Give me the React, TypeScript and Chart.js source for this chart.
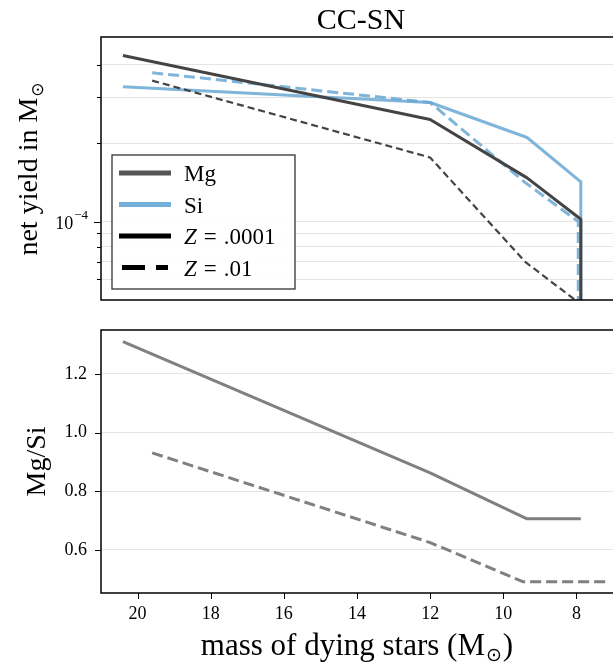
import React, { useEffect, useRef } from 'react';
import { Chart, registerables } from 'chart.js';
Chart.register(...registerables);

// ---- data ----
const massSolid = [20.4, 12.0, 9.35, 7.88, 7.88];
const massDashed = [19.6, 12.0, 9.4, 7.95, 7.95];
const mgSolid = [4.33e-4, 2.46e-4, 1.47e-4, 1.02e-4, 1e-6];
const siSolid = [3.29e-4, 2.86e-4, 2.1e-4, 1.42e-4, 1e-6];
const mgDashed = [3.47e-4, 1.76e-4, 7.0e-5, 4.9e-5, 1e-6];
const siDashed = [3.72e-4, 2.86e-4, 1.41e-4, 1.0e-4, 1e-6];

const ratioMassSolid = [20.4, 12.0, 9.35, 7.88];
const ratioSolid = [1.31, 0.863, 0.706, 0.706];
const ratioMassDashed = [19.6, 12.0, 9.45, 7.2];
const ratioDashed = [0.931, 0.625, 0.491, 0.491];

const massTicks = [8, 10, 12, 14, 16, 18, 20];
const yieldTicks = [6e-5, 7e-5, 8e-5, 9e-5, 1e-4, 2e-4, 3e-4, 4e-4];
const yieldMajor = [1e-4];
const yieldMajorBase = '10';
const yieldMajorExp = '−4';
const ratioTicks = [0.6, 0.8, 1.0, 1.2];

const legendLabels = ['Mg', 'Si', 'Z = .0001', 'Z = .01'];

const SERIF = '"Liberation Serif", "DejaVu Serif", serif';
const MG = '#444444';
const SI = 'rgba(104,168,212,0.85)';
const GREY = '#808080';
const GRID = '#e4e4e4';

const pts = (xs: number[], ys: number[]) => xs.map((x, i) => ({ x, y: ys[i] }));

function drawSunText(ctx: CanvasRenderingContext2D, main: string, tail: string, cx: number, y: number, size: number) {
  const mainFont = `${size}px ${SERIF}`;
  const subSize = Math.round(size * 0.62);
  const subFont = `${subSize}px "DejaVu Sans", ${SERIF}`;
  ctx.font = mainFont;
  const w1 = ctx.measureText(main).width;
  const w3 = tail ? ctx.measureText(tail).width : 0;
  ctx.font = subFont;
  const w2 = ctx.measureText('⊙').width;
  const total = w1 + w2 + w3 + 2;
  let x = cx - total / 2;
  ctx.textAlign = 'left';
  ctx.textBaseline = 'alphabetic';
  ctx.fillStyle = '#000';
  ctx.font = mainFont;
  ctx.fillText(main, x, y);
  x += w1 + 1;
  ctx.font = subFont;
  ctx.fillText('⊙', x, y + size * 0.2);
  x += w2 + 1;
  if (tail) {
    ctx.font = mainFont;
    ctx.fillText(tail, x, y);
  }
}

function drawSpines(ctx: CanvasRenderingContext2D, a: any) {
  ctx.strokeStyle = '#000';
  ctx.lineWidth = 1.5;
  ctx.beginPath();
  ctx.moveTo(a.right + 2, a.top);
  ctx.lineTo(a.left, a.top);
  ctx.lineTo(a.left, a.bottom);
  ctx.lineTo(a.right + 2, a.bottom);
  ctx.stroke();
}

const zeroPad = (s: any) => {
  s.paddingTop = 0;
  s.paddingBottom = 0;
  s.paddingLeft = 0;
  s.paddingRight = 0;
};

const topDecor = {
  id: 'topDecor',
  afterDraw(chart: any) {
    const { ctx, chartArea: a, scales } = chart;
    ctx.save();
    const y = scales.y;
    ctx.strokeStyle = '#000';
    ctx.lineWidth = 1;
    y.ticks.forEach((t: any) => {
      const py = Math.round(y.getPixelForValue(t.value)) + 0.5;
      const major = yieldMajor.includes(t.value);
      const len = major ? 7 : 4;
      ctx.beginPath();
      ctx.moveTo(a.left - len, py);
      ctx.lineTo(a.left, py);
      ctx.stroke();
      if (major) {
        ctx.fillStyle = '#000';
        ctx.textBaseline = 'alphabetic';
        ctx.textAlign = 'right';
        ctx.font = `13px ${SERIF}`;
        const we = ctx.measureText(yieldMajorExp).width;
        ctx.fillText(yieldMajorExp, 88, py - 4);
        ctx.font = `18px ${SERIF}`;
        ctx.fillText(yieldMajorBase, 88 - we - 1, py + 6);
      }
    });
    drawSpines(ctx, a);

    // title
    ctx.fillStyle = '#000';
    ctx.font = `30px ${SERIF}`;
    ctx.textAlign = 'center';
    ctx.textBaseline = 'alphabetic';
    ctx.fillText('CC-SN', (a.left + a.right) / 2 + 4, 29);

    // y title
    ctx.save();
    ctx.translate(37, (a.top + a.bottom) / 2);
    ctx.rotate(-Math.PI / 2);
    drawSunText(ctx, 'net yield in M', '', 0, 0, 28);
    ctx.restore();

    // legend
    const bx = 112, by = 155, bw = 183, bh = 134;
    ctx.fillStyle = 'rgba(255,255,255,0.9)';
    ctx.fillRect(bx, by, bw, bh);
    ctx.strokeStyle = '#333';
    ctx.lineWidth = 1.3;
    ctx.strokeRect(bx, by, bw, bh);
    const rows = [173, 204.5, 236, 267.5];
    const styles = [
      { c: '#555555', dash: [] as number[] },
      { c: 'rgba(110,172,214,0.95)', dash: [] as number[] },
      { c: '#000', dash: [] as number[] },
      { c: '#000', dash: [23, 11] },
    ];
    rows.forEach((ry, i) => {
      ctx.strokeStyle = styles[i].c;
      ctx.lineWidth = 5;
      ctx.setLineDash(styles[i].dash);
      ctx.lineCap = 'butt';
      ctx.beginPath();
      if (i === 3) {
        ctx.moveTo(122, ry);
        ctx.lineTo(168, ry);
      } else {
        ctx.moveTo(119, ry);
        ctx.lineTo(171, ry);
      }
      ctx.stroke();
      ctx.setLineDash([]);
      ctx.fillStyle = '#000';
      ctx.textAlign = 'left';
      ctx.textBaseline = 'alphabetic';
      const label = legendLabels[i];
      const ty = ry + 8;
      if (label.startsWith('Z')) {
        // math-style spacing: italic Z, wide spaces around "="
        const parts = label.split('=');
        let x = 184;
        ctx.font = `italic 23px ${SERIF}`;
        ctx.fillText('Z', x, ty);
        x += ctx.measureText('Z').width + 7;
        ctx.font = `23px ${SERIF}`;
        ctx.fillText('=', x, ty);
        x += ctx.measureText('=').width + 7;
        ctx.fillText(parts[1].trim(), x, ty);
      } else {
        ctx.font = `23px ${SERIF}`;
        ctx.fillText(label, 184, ty);
      }
    });
    ctx.restore();
  },
};

const bottomDecor = {
  id: 'bottomDecor',
  afterDraw(chart: any) {
    const { ctx, chartArea: a, scales } = chart;
    ctx.save();
    ctx.strokeStyle = '#000';
    ctx.lineWidth = 1;
    const y = scales.y;
    y.ticks.forEach((t: any) => {
      const py = Math.round(y.getPixelForValue(t.value)) + 0.5;
      ctx.beginPath();
      ctx.moveTo(a.left - 6, py);
      ctx.lineTo(a.left, py);
      ctx.stroke();
    });
    const x = scales.x;
    x.ticks.forEach((t: any) => {
      const px = Math.round(x.getPixelForValue(t.value)) + 0.5;
      ctx.beginPath();
      ctx.moveTo(px, a.bottom);
      ctx.lineTo(px, a.bottom + 6);
      ctx.stroke();
    });
    drawSpines(ctx, a);

    // y title
    ctx.save();
    ctx.translate(45, (a.top + a.bottom) / 2);
    ctx.rotate(-Math.PI / 2);
    ctx.fillStyle = '#000';
    ctx.font = `28px ${SERIF}`;
    ctx.textAlign = 'center';
    ctx.textBaseline = 'alphabetic';
    ctx.fillText('Mg/Si', 0, 0);
    ctx.restore();

    // x title
    drawSunText(ctx, 'mass of dying stars (M', ')', 357, 345, 31);
    ctx.restore();
  },
};

export default function App() {
  const topRef = useRef<HTMLCanvasElement>(null);
  const botRef = useRef<HTMLCanvasElement>(null);

  useEffect(() => {
    Chart.defaults.font.family = SERIF;
    Chart.defaults.color = '#000';
    const common = {
      pointRadius: 0,
      tension: 0,
      fill: false,
      borderJoinStyle: 'round' as const,
      borderCapStyle: 'butt' as const,
    };

    const top = new Chart(topRef.current!, {
      type: 'line',
      data: {
        datasets: [
          { ...common, data: pts(massSolid, mgSolid), borderColor: MG, borderWidth: 3 },
          { ...common, data: pts(massDashed, mgDashed), borderColor: MG, borderWidth: 2.2, borderDash: [7, 4] },
          { ...common, data: pts(massSolid, siSolid), borderColor: SI, borderWidth: 3 },
          { ...common, data: pts(massDashed, siDashed), borderColor: SI, borderWidth: 3, borderDash: [11, 5] },
        ],
      },
      options: {
        animation: false,
        responsive: false,
        layout: { padding: { top: 37, left: 0, right: 0, bottom: 0 } },
        plugins: { legend: { display: false }, tooltip: { enabled: false }, title: { display: false } },
        scales: {
          x: {
            type: 'linear',
            reverse: true,
            min: 7,
            max: 21,
            afterFit: (s: any) => { s.height = 10; zeroPad(s); },
            afterBuildTicks: (s: any) => { s.ticks = massTicks.map((v) => ({ value: v })); },
            ticks: { display: false },
            grid: { display: false },
            border: { display: false },
          },
          y: {
            type: 'logarithmic',
            min: 5e-5,
            max: 5.1e-4,
            afterFit: (s: any) => { s.width = 101; zeroPad(s); },
            afterBuildTicks: (s: any) => {
              s.ticks = yieldTicks.map((v) => ({ value: v, major: yieldMajor.includes(v) }));
            },
            ticks: {
              autoSkip: false,
              padding: 13,
              color: '#000',
              font: { size: 18, family: SERIF },
              callback: () => '',
            },
            grid: { color: GRID, lineWidth: 1, drawTicks: false },
            border: { display: false },
          },
        },
      },
      plugins: [topDecor],
    } as any);

    const bottom = new Chart(botRef.current!, {
      type: 'line',
      data: {
        datasets: [
          { ...common, data: pts(ratioMassSolid, ratioSolid), borderColor: GREY, borderWidth: 3 },
          { ...common, data: pts(ratioMassDashed, ratioDashed), borderColor: GREY, borderWidth: 3, borderDash: [11, 5] },
        ],
      },
      options: {
        animation: false,
        responsive: false,
        layout: { padding: { top: 20, left: 0, right: 0, bottom: 0 } },
        plugins: { legend: { display: false }, tooltip: { enabled: false }, title: { display: false } },
        scales: {
          x: {
            type: 'linear',
            reverse: true,
            min: 7,
            max: 21,
            afterFit: (s: any) => { s.height = 73; zeroPad(s); },
            afterBuildTicks: (s: any) => { s.ticks = massTicks.map((v) => ({ value: v })); },
            ticks: {
              autoSkip: false,
              maxRotation: 0,
              padding: 10,
              color: '#000',
              font: { size: 18, family: SERIF },
              callback: (v: any) => String(v),
            },
            grid: { display: false, drawTicks: false },
            border: { display: false },
          },
          y: {
            type: 'linear',
            min: 0.453,
            max: 1.35,
            afterFit: (s: any) => { s.width = 101; zeroPad(s); },
            afterBuildTicks: (s: any) => { s.ticks = ratioTicks.map((v) => ({ value: v })); },
            ticks: {
              autoSkip: false,
              padding: 14,
              color: '#000',
              font: { size: 18, family: SERIF },
              callback: (v: any) => Number(v).toFixed(1),
            },
            grid: { color: GRID, lineWidth: 1, drawTicks: false },
            border: { display: false },
          },
        },
      },
      plugins: [bottomDecor],
    } as any);

    return () => {
      top.destroy();
      bottom.destroy();
    };
  }, []);

  return (
    <div style={{ position: 'absolute', left: 0, top: 0, width: 613, height: 666, background: '#fff', overflow: 'hidden' }}>
      <canvas ref={topRef} width={613} height={310} style={{ position: 'absolute', left: 0, top: 0, width: 613, height: 310 }} />
      <canvas ref={botRef} width={613} height={356} style={{ position: 'absolute', left: 0, top: 310, width: 613, height: 356 }} />
    </div>
  );
}
